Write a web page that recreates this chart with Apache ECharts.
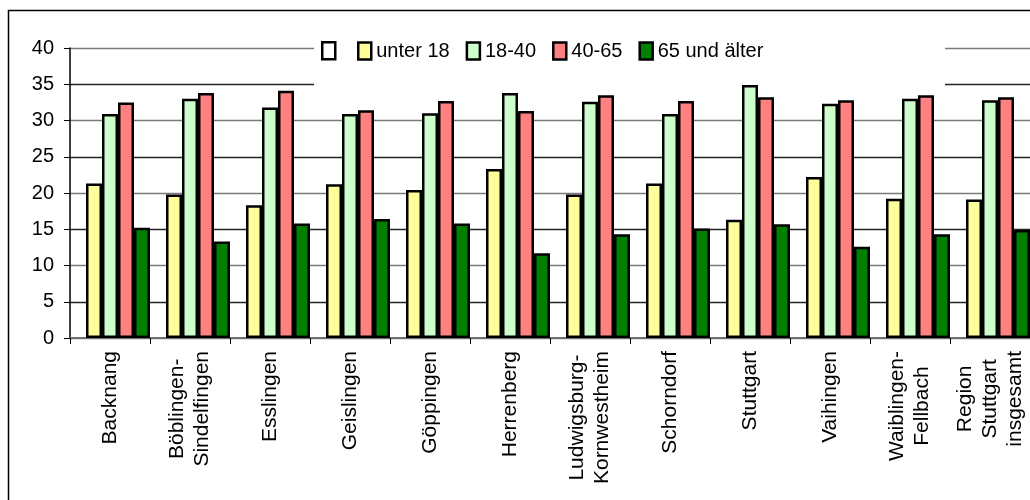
<!DOCTYPE html>
<html>
<head>
<meta charset="utf-8">
<script src="https://cdn.jsdelivr.net/npm/echarts@6/dist/echarts.min.js"></script>
<style>
html,body{margin:0;padding:0;background:#fff;}
#chart{width:1030px;height:500px;}
</style>
</head>
<body>
<div id="chart"></div>
<script>
var categories = ["Backnang", "Böblingen-\nSindelfingen", "Esslingen", "Geislingen", "Göppingen", "Herrenberg",
  "Ludwigsburg-\nKornwestheim", "Schorndorf", "Stuttgart", "Vaihingen", "Waiblingen-\nFellbach", "Region\nStuttgart\ninsgesamt"];
var seriesNames = [" ", "unter 18", "18-40", "40-65", "65 und älter"];
var blankValues = [null, null, null, null, null, null, null, null, null, null, null, null];
var under18 = [21.3, 19.8, 18.3, 21.2, 20.4, 23.3, 19.8, 21.3, 16.3, 22.2, 19.2, 19.1];
var age18to40 = [30.9, 33.0, 31.8, 30.9, 31.0, 33.8, 32.6, 30.9, 34.9, 32.3, 33.0, 32.8];
var age40to65 = [32.5, 33.8, 34.1, 31.4, 32.7, 31.3, 33.5, 32.7, 33.2, 32.8, 33.5, 33.2];
var age65plus = [15.2, 13.3, 15.8, 16.4, 15.8, 11.7, 14.3, 15.1, 15.7, 12.6, 14.3, 14.9];
var yTicks = [0, 5, 10, 15, 20, 25, 30, 35, 40];
var colors = ["#FFFFFF", "#FFFF99", "#CCFFCC", "#FF8080", "#008000"];

var FONT = "'Liberation Sans', Arial, sans-serif";
var allData = [blankValues, under18, age18to40, age40to65, age65plus];

var chart = echarts.init(document.getElementById('chart'), null, {renderer: 'canvas'});

var series = seriesNames.map(function (name, i) {
  return {
    name: name,
    type: 'bar',
    data: allData[i],
    barGap: '0%',
    barCategoryGap: '0%',
    itemStyle: {color: colors[i], borderColor: '#000', borderWidth: 2.5},
    emphasis: {disabled: true}
  };
});

chart.setOption({
  animation: false,
  textStyle: {fontFamily: FONT},
  grid: {left: 70, top: 48, bottom: 162, right: -13, containLabel: false},
  legend: [
    {
      data: [" "], left: 321, top: 41, padding: 0, icon: 'rect',
      itemWidth: 13, itemHeight: 17, selectedMode: false,
      itemStyle: {borderColor: '#000', borderWidth: 2.5},
      formatter: function () { return ''; },
      textStyle: {fontSize: 20, fontFamily: FONT, color: '#000'}
    },
    {
      data: seriesNames.slice(1), left: 357, top: 41, padding: 0, icon: 'rect',
      itemWidth: 13, itemHeight: 17, itemGap: 16, selectedMode: false,
      itemStyle: {borderColor: '#000', borderWidth: 2.5},
      textStyle: {fontSize: 20, fontFamily: FONT, color: '#000'}
    }
  ],
  graphic: [
    {type: 'rect', shape: {x: 314, y: 28, width: 631, height: 62}, style: {fill: '#fff'}, z: 1, silent: true},
    {type: 'rect', shape: {x: 8.5, y: 10.5, width: 1200, height: 800}, style: {fill: null, stroke: '#000', lineWidth: 1.5}, z: 100, silent: true}
  ],
  xAxis: {
    type: 'category',
    data: categories,
    boundaryGap: true,
    axisLine: {lineStyle: {color: '#707070', width: 2}},
    axisTick: {show: true, inside: false, length: 6, alignWithLabel: false, lineStyle: {color: '#000', width: 1}},
    axisLabel: {
      interval: 0, rotate: 90, margin: 13, color: '#000',
      fontSize: 21, fontFamily: FONT, lineHeight: 25,
      formatter: function (v) {
        return v.split('\n').map(function (s) { return '{c|' + s + '}'; }).join('\n');
      },
      rich: {c: {align: 'center', fontSize: 21, lineHeight: 25, fontFamily: FONT, color: '#000'}}
    },
    splitLine: {show: false}
  },
  yAxis: {
    type: 'value',
    min: yTicks[0], max: yTicks[yTicks.length - 1], interval: yTicks[1] - yTicks[0],
    axisLine: {show: true, lineStyle: {color: '#000', width: 1.5}},
    axisTick: {show: true, length: 6, lineStyle: {color: '#000', width: 1}},
    axisLabel: {margin: 16, color: '#000', fontSize: 20, fontFamily: FONT},
    splitLine: {show: true, lineStyle: {color: ['#7a7a7a', '#222222'], width: 1.3}}
  },
  series: series
});
</script>
</body>
</html>
